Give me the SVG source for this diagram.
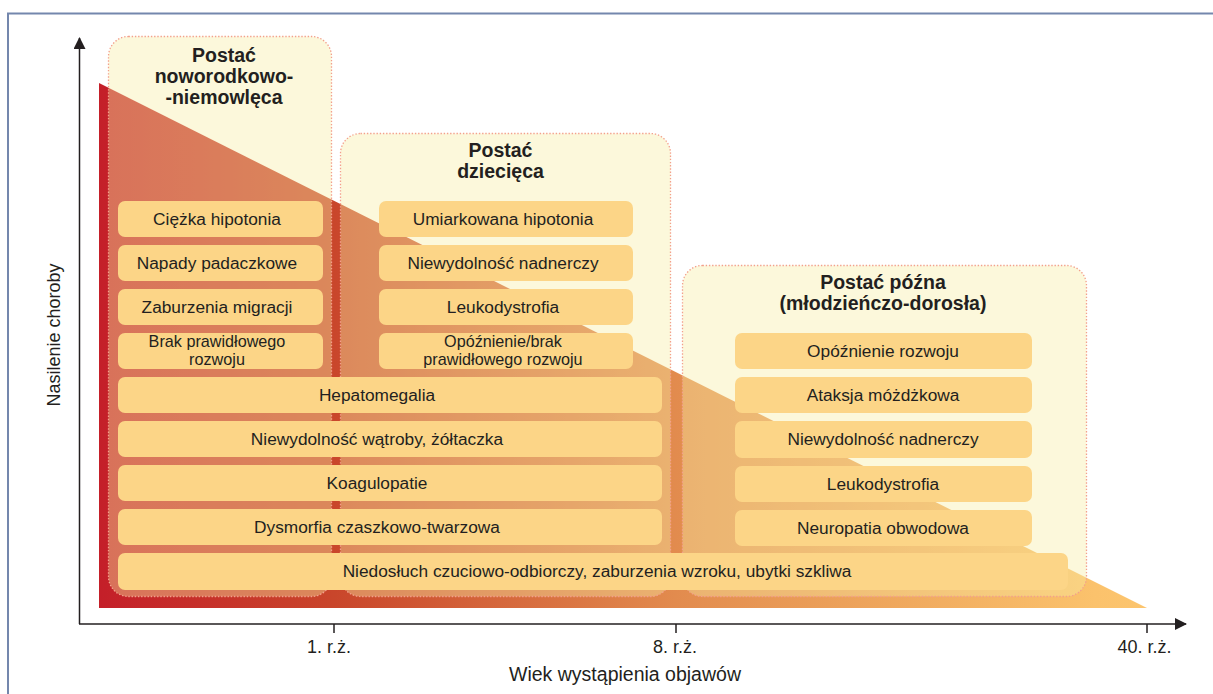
<svg xmlns="http://www.w3.org/2000/svg" width="1213" height="694" viewBox="0 0 1213 694">
<defs>
<linearGradient id="tri" gradientUnits="userSpaceOnUse" x1="99" y1="0" x2="1147" y2="0">
<stop offset="0" stop-color="#c41f29"/>
<stop offset="0.225" stop-color="#c9462b"/>
<stop offset="0.55" stop-color="#e28b4e"/>
<stop offset="0.95" stop-color="#fbc26c"/>
<stop offset="1" stop-color="#fcc56e"/>
</linearGradient>
<marker id="arr" viewBox="0 0 12 12" refX="11" refY="6" markerWidth="12" markerHeight="12" markerUnits="userSpaceOnUse" orient="auto">
<path d="M0,0 L12,6 L0,12 Z" fill="#231f20"/>
</marker>
<style>
.grp{fill:#f8eea4;fill-opacity:0.4;stroke:#f3a08c;stroke-width:1.3;stroke-dasharray:1.4 1.8}
.ttl{font-family:"Liberation Sans",Arial,sans-serif;font-weight:bold;font-size:19.5px;fill:#231f20;text-anchor:middle}
.itm{fill:#fcd587}
.it{font-family:"Liberation Sans",Arial,sans-serif;font-size:17.3px;fill:#231f20;text-anchor:middle}
.it2{font-family:"Liberation Sans",Arial,sans-serif;font-size:16.2px;fill:#231f20;text-anchor:middle}
.ax{stroke:#231f20;stroke-width:1.5;fill:none}
.lbl{font-family:"Liberation Sans",Arial,sans-serif;font-size:18px;fill:#231f20;text-anchor:middle}
</style>
</defs>
<rect x="0" y="0" width="1213" height="694" fill="#ffffff"/>
<g id="frame"><path d="M8,694 L8,13.5 L1213,13.5" fill="none" stroke="#7487ad" stroke-width="2"/></g>
<g id="severity-triangle"><polygon points="99,83 99,608 1147,608" fill="url(#tri)"/></g>

<g id="group-neonatal">
<rect class="grp" x="108.5" y="36.5" width="223" height="560" rx="20"/>
<text class="ttl" x="224" y="62">Postać</text>
<text class="ttl" x="224" y="83">noworodkowo-</text>
<text class="ttl" x="224" y="104">-niemowlęca</text>
</g>
<g id="group-child">
<rect class="grp" x="340.5" y="133.5" width="330" height="463" rx="20"/>
<text class="ttl" x="500.5" y="157">Postać</text>
<text class="ttl" x="500.5" y="178">dziecięca</text>
</g>
<g id="group-late">
<rect class="grp" x="682.5" y="265.5" width="404" height="331" rx="20"/>
<text class="ttl" x="883" y="289">Postać późna</text>
<text class="ttl" x="883" y="310">(młodzieńczo-dorosła)</text>
</g>

<g id="n1-ciezka-hipotonia"><rect class="itm" x="118" y="201" width="205" height="36" rx="7"/><text class="it" x="217" y="225">Ciężka hipotonia</text></g>
<g id="n1-napady"><rect class="itm" x="118" y="245" width="205" height="36" rx="7"/><text class="it" x="217" y="269">Napady padaczkowe</text></g>
<g id="n1-migracja"><rect class="itm" x="118" y="289" width="205" height="36" rx="7"/><text class="it" x="217" y="313">Zaburzenia migracji</text></g>
<g id="n1-brak-rozwoju"><rect class="itm" x="118" y="333" width="205" height="36" rx="7"/><text class="it2" x="217" y="347">Brak prawidłowego</text><text class="it2" x="217" y="364.5">rozwoju</text></g>

<g id="n2-umiarkowana-hipotonia"><rect class="itm" x="379" y="201" width="254" height="36" rx="7"/><text class="it" x="503" y="225">Umiarkowana hipotonia</text></g>
<g id="n2-nadnercza"><rect class="itm" x="379" y="245" width="254" height="36" rx="7"/><text class="it" x="503" y="269">Niewydolność nadnerczy</text></g>
<g id="n2-leukodystrofia"><rect class="itm" x="379" y="289" width="254" height="36" rx="7"/><text class="it" x="503" y="313">Leukodystrofia</text></g>
<g id="n2-opoznienie"><rect class="itm" x="379" y="333" width="254" height="36" rx="7"/><text class="it2" x="503" y="347">Opóźnienie/brak</text><text class="it2" x="503" y="364.5">prawidłowego rozwoju</text></g>

<g id="w-hepatomegalia"><rect class="itm" x="118" y="377" width="544" height="36" rx="7"/><text class="it" x="377" y="401">Hepatomegalia</text></g>
<g id="w-watroba"><rect class="itm" x="118" y="421" width="544" height="36" rx="7"/><text class="it" x="377" y="445">Niewydolność wątroby, żółtaczka</text></g>
<g id="w-koagulopatie"><rect class="itm" x="118" y="465" width="544" height="36" rx="7"/><text class="it" x="377" y="489">Koagulopatie</text></g>
<g id="w-dysmorfia"><rect class="itm" x="118" y="509" width="544" height="36" rx="7"/><text class="it" x="377" y="533">Dysmorfia czaszkowo-twarzowa</text></g>
<g id="w-niedosluch"><rect class="itm" x="118" y="553" width="950" height="37" rx="7"/><text class="it" x="597" y="577">Niedosłuch czuciowo-odbiorczy, zaburzenia wzroku, ubytki szkliwa</text></g>

<g id="n3-opoznienie"><rect class="itm" x="735" y="333" width="297" height="36" rx="7"/><text class="it" x="883" y="357">Opóźnienie rozwoju</text></g>
<g id="n3-ataksja"><rect class="itm" x="735" y="377" width="297" height="36" rx="7"/><text class="it" x="883" y="401">Ataksja móżdżkowa</text></g>
<g id="n3-nadnercza"><rect class="itm" x="735" y="421" width="297" height="37" rx="7"/><text class="it" x="883" y="445">Niewydolność nadnerczy</text></g>
<g id="n3-leukodystrofia"><rect class="itm" x="735" y="466" width="297" height="36" rx="7"/><text class="it" x="883" y="490">Leukodystrofia</text></g>
<g id="n3-neuropatia"><rect class="itm" x="735" y="510" width="297" height="36" rx="7"/><text class="it" x="883" y="534">Neuropatia obwodowa</text></g>

<g id="connectors">
<line class="ax" x1="79.5" y1="624" x2="79.5" y2="38" marker-end="url(#arr)"/>
<line class="ax" x1="79" y1="624" x2="1186" y2="624" marker-end="url(#arr)"/>
<line class="ax" x1="334" y1="624" x2="334" y2="633"/>
<line class="ax" x1="676" y1="624" x2="676" y2="633"/>
<line class="ax" x1="1147" y1="624" x2="1147" y2="633"/>
</g>
<g id="axis-labels">
<text class="lbl" x="329" y="653">1. r.ż.</text>
<text class="lbl" x="675" y="653">8. r.ż.</text>
<text class="lbl" x="1144.5" y="653">40. r.ż.</text>
<text class="lbl" x="625" y="681" style="font-size:19.5px">Wiek wystąpienia objawów</text>
<text class="lbl" transform="translate(60,335) rotate(-90)">Nasilenie choroby</text>
</g>
</svg>
